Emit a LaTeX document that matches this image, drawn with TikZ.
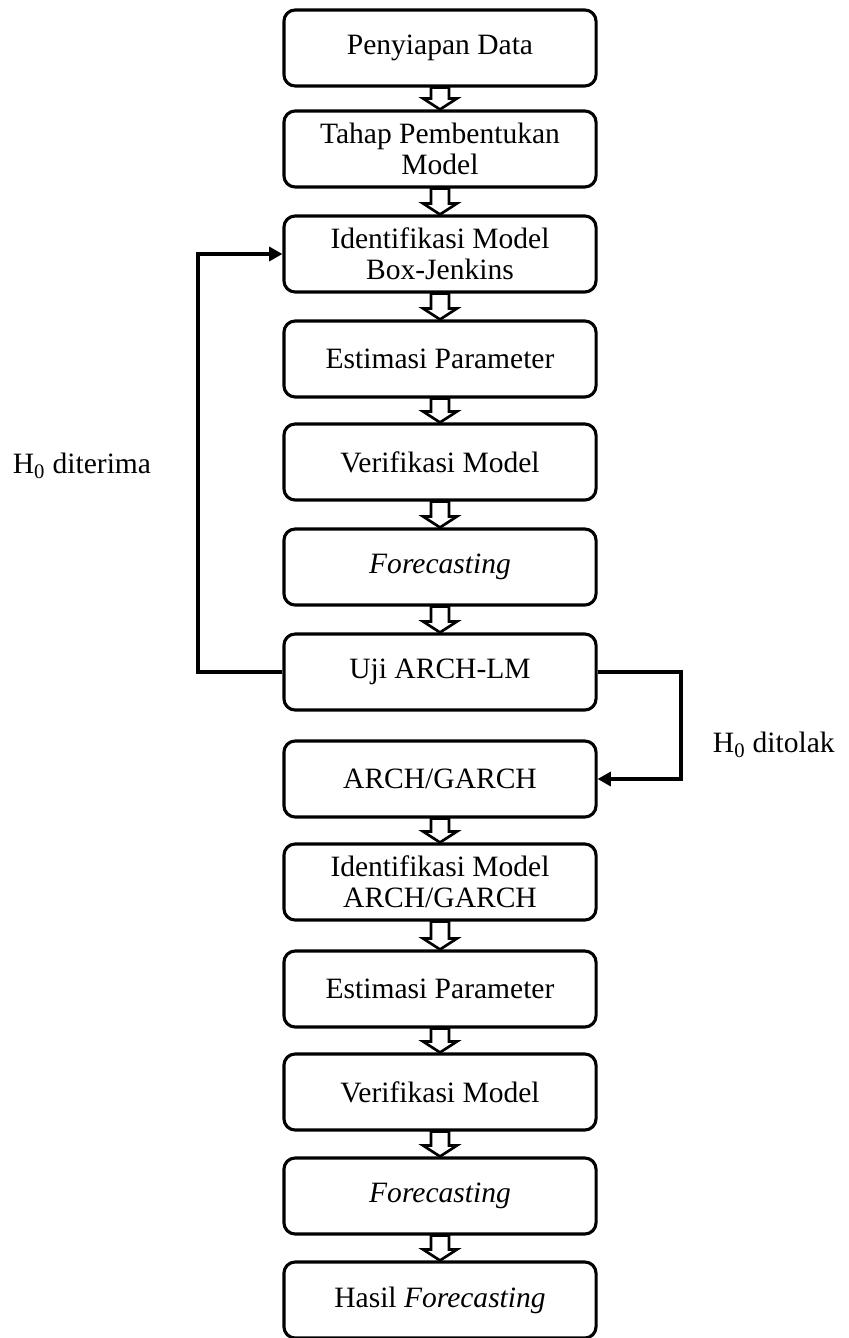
\documentclass[tikz,border=0pt]{standalone}
\usepackage{fontspec}
\setmainfont{Liberation Serif}
\usetikzlibrary{arrows.meta,calc}

\tikzset{
  kotak/.style={draw, line width=2.2pt, rounded corners=0.28cm,
    minimum width=7.8cm, minimum height=1.9cm, inner sep=0pt,
    align=center, font=\fontsize{21}{22}\selectfont},
  panah/.style={draw, line width=1.9pt, fill=white, line join=miter},
  garis/.style={line width=2.2pt, -{Triangle[length=0.33cm,width=0.35cm]}},
  ket/.style={font=\fontsize{21}{22}\selectfont}
}

% panah blok putih antar kotak
\newcommand{\panahblok}[2]{%
  \draw[panah] ($(#1.south)+(-9,0)$) -- ($(#2.north)+(-9,-11)$)
    -- ($(#2.north)+(-17,-11)$) -- (#2.north) -- ($(#2.north)+(17,-11)$)
    -- ($(#2.north)+(9,-11)$) -- ($(#1.south)+(9,0)$) -- cycle;}

\begin{document}
\begin{tikzpicture}[x=0.025cm, y=-0.025cm]
      \useasboundingbox (0,0) rectangle (848,1338);

      % kotak-kotak tahapan
      \node[kotak] (data)   at (440,48)   {Penyiapan Data};
      \node[kotak] (tahap)  at (440,149)  {Tahap Pembentukan\\Model};
      \node[kotak] (idbj)   at (440,254)  {Identifikasi Model\\Box-Jenkins};
      \node[kotak] (estbj)  at (440,359)  {Estimasi Parameter};
      \node[kotak] (verbj)  at (440,462)  {Verifikasi Model};
      \node[kotak] (forbj)  at (440,567)  {\textit{Forecasting}};
      \node[kotak] (uji)    at (440,672)  {Uji ARCH-LM};
      \node[kotak] (arch)   at (440,779)  {ARCH/GARCH};
      \node[kotak] (idga)   at (440,882)  {Identifikasi Model\\ARCH/GARCH};
      \node[kotak] (estga)  at (440,989)  {Estimasi Parameter};
      \node[kotak] (verga)  at (440,1092) {Verifikasi Model};
      \node[kotak] (forga)  at (440,1196) {\textit{Forecasting}};
      \node[kotak] (hasil)  at (440,1300) {Hasil \textit{Forecasting}};

      % panah ke bawah
      \panahblok{data}{tahap}
      \panahblok{tahap}{idbj}
      \panahblok{idbj}{estbj}
      \panahblok{estbj}{verbj}
      \panahblok{verbj}{forbj}
      \panahblok{forbj}{uji}
      \panahblok{arch}{idga}
      \panahblok{idga}{estga}
      \panahblok{estga}{verga}
      \panahblok{verga}{forga}
      \panahblok{forga}{hasil}

      % jalur keputusan uji
      \coordinate (kiri) at (198,466);
      \coordinate (kanan) at (681,730);
      \draw[garis] (uji.west) -| (kiri) |- (idbj.west);
      \draw[garis] (uji.east) -| (kanan) |- (arch.east);

      \node[ket, anchor=east] (terima) at (156,466) {H\textsubscript{0} diterima};
      \node[ket, anchor=west] (tolak) at (708,745) {H\textsubscript{0} ditolak};
\end{tikzpicture}
\end{document}
